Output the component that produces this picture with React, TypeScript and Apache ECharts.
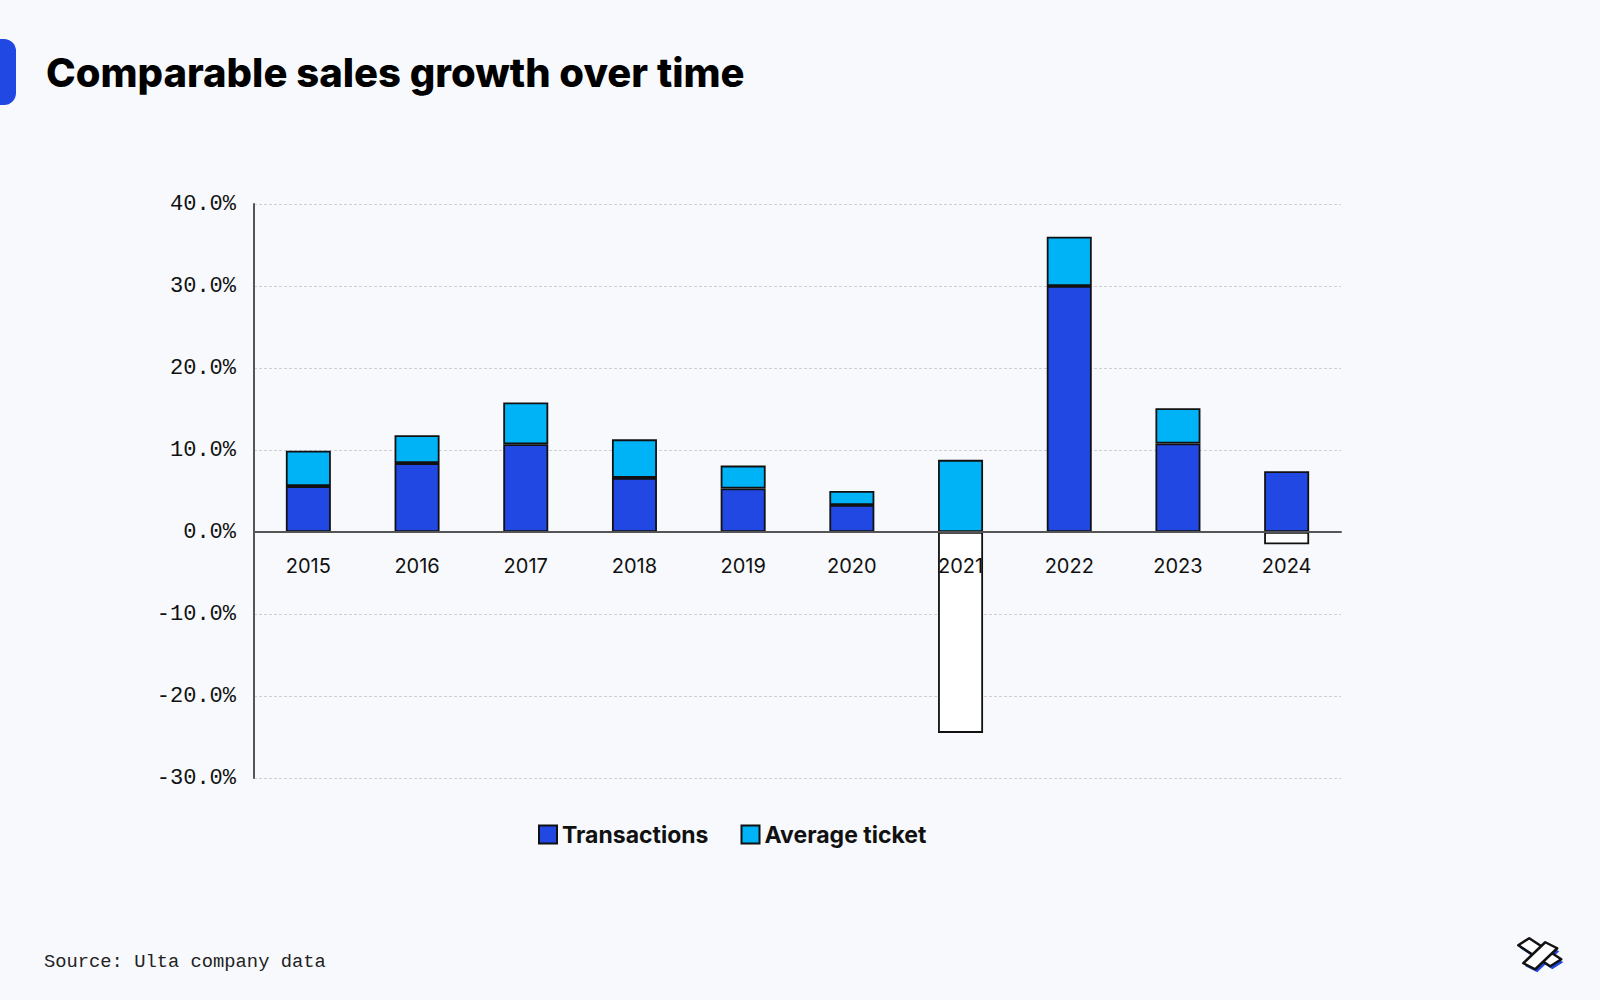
import React, { useEffect, useRef } from "react";
import * as echarts from "echarts";

const years = ["2015", "2016", "2017", "2018", "2019", "2020", "2021", "2022", "2023", "2024"];
const transactions = [5.6, 8.4, 10.7, 6.6, 5.3, 3.3, -24.5, 30.0, 10.8, 7.4];
const averageTicket = [4.3, 3.4, 5.1, 4.7, 2.8, 1.7, 8.8, 6.0, 4.3, -1.5];
const seriesNames = ["Transactions", "Average ticket"];

const TITLE = "Comparable sales growth over time";
const SOURCE = "Source: Ulta company data";

const BLUE = "#2248E3";
const CYAN = "#00B3F6";
const BG = "#F7F9FC";

function toData(values: number[]) {
  return values.map((v) => (v < 0 ? { value: v, itemStyle: { color: "#FFFFFF" } } : v));
}

export default function App() {
  const ref = useRef<HTMLDivElement>(null);
  useEffect(() => {
    document.body.style.margin = "0";
    const chart = echarts.init(ref.current!, null, { renderer: "svg" });
    const barBase = {
      type: "bar",
      stack: "total",
      barWidth: 45,
      itemStyle: { borderColor: "#111111", borderWidth: 1.8 },
      emphasis: { disabled: true },
    };
    chart.setOption({
      animation: false,
      backgroundColor: BG,
      title: {
        text: TITLE,
        left: 41,
        top: 47,
        textStyle: { fontFamily: "Inter", fontWeight: 800, fontSize: 40, color: "#000" },
      },
      grid: { left: 254, right: 259, top: 204, bottom: 222, containLabel: false },
      legend: {
        data: seriesNames,
        left: 533,
        top: 818,
        icon: "rect",
        itemWidth: 18,
        itemHeight: 18,
        itemGap: 32,
        textStyle: { fontFamily: "Inter", fontWeight: 700, fontSize: 23, color: "#111" },
      },
      xAxis: {
        type: "category",
        data: years,
        z: 5,
        position: "bottom",
        offset: -246,
        axisLine: { show: true, onZero: false, lineStyle: { color: "#555", width: 2 } },
        axisTick: { show: false },
        axisLabel: { fontFamily: "Inter", fontSize: 20, color: "#111", margin: 24 },
      },
      yAxis: {
        type: "value",
        min: -30,
        max: 40,
        interval: 10,
        axisLine: { show: true, lineStyle: { color: "#555", width: 2 } },
        axisTick: { show: false },
        splitLine: { show: true, lineStyle: { color: "#CFCFD4", type: [3, 2], width: 1 } },
        axisLabel: {
          fontFamily: "Liberation Mono",
          fontSize: 22,
          color: "#111",
          margin: 18,
          formatter: (v: number) => v.toFixed(1) + "%",
        },
      },
      series: [
        { ...barBase, name: seriesNames[0], color: BLUE, data: toData(transactions) },
        { ...barBase, name: seriesNames[1], color: CYAN, data: toData(averageTicket) },
      ],
      graphic: [
        { type: "rect", left: -12, top: 39, shape: { x: 0, y: 0, width: 28, height: 66, r: 12 }, style: { fill: BLUE } },
        {
          type: "text",
          left: 44,
          top: 952,
          style: { text: SOURCE, font: "18.8px 'Liberation Mono'", fill: "#222" },
        },
        {
          type: "group",
          left: 1517,
          top: 937,
          children: [
            { type: "polygon", shape: { points: [[3, 12], [14, 5], [46, 26], [35, 33]] }, style: { fill: BLUE } },
            { type: "polygon", shape: { points: [[8, 30], [30, 9], [42, 15], [20, 36]] }, style: { fill: BLUE } },
            { type: "polygon", shape: { points: [[1, 9], [12, 2], [44, 23], [33, 30]] }, style: { fill: "#fff", stroke: "#111", lineWidth: 2.5, lineJoin: "round" } },
            { type: "polygon", shape: { points: [[6, 27], [28, 6], [40, 12], [18, 33]] }, style: { fill: "#fff", stroke: "#111", lineWidth: 2.5, lineJoin: "round" } },
          ],
        },
      ],
    });
    return () => chart.dispose();
  }, []);
  return <div ref={ref} style={{ position: "fixed", left: 0, top: 0, width: 1600, height: 1000 }} />;
}
